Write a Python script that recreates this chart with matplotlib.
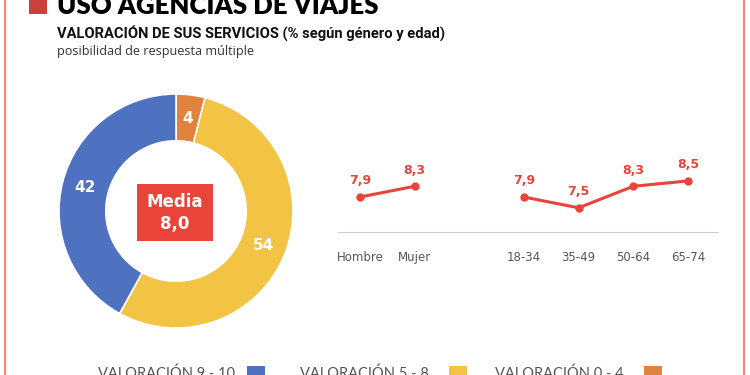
import matplotlib.pyplot as plt
from matplotlib.patches import Rectangle
from matplotlib.lines import Line2D

# donut data (clockwise from the top)
donut_labels = ['VALORACIÓN 0 - 4', 'VALORACIÓN 5 - 8', 'VALORACIÓN 9 - 10']
donut_values = [4, 54, 42]
donut_colors = ['#e0833f', '#f3c343', '#4f72c0']
media = '8,0'

# line data
gender_labels = ['Hombre', 'Mujer']
gender_values = [7.9, 8.3]
age_labels = ['18-34', '35-49', '50-64', '65-74']
age_values = [7.9, 7.5, 8.3, 8.5]

legend_order = ['VALORACIÓN 9 - 10', 'VALORACIÓN 5 - 8', 'VALORACIÓN 0 - 4']

W, H = 750, 375
RED = '#e8443a'


def box(x0, y0, x1, y1):
    # pixel box (top-left origin) -> figure rect
    return [x0 / W, 1 - y1 / H, (x1 - x0) / W, (y1 - y0) / H]


def fx(x):
    return x / W


def fy(y):
    return 1 - y / H


fig = plt.figure(figsize=(7.5, 3.75), dpi=100)
fig.patch.set_facecolor('white')

# side frame lines
fig.add_artist(Line2D([fx(4.5), fx(4.5)], [0, 1], color='#f08a80', lw=1.6))
fig.add_artist(Line2D([fx(743.5), fx(743.5)], [0, 1], color='#f08a80', lw=1.6))

# header
fig.add_artist(Rectangle((fx(29), fy(14)), 18 / W, 20 / H, color='#c9403f', lw=0))
fig.text(fx(57), fy(14), 'USO AGENCIAS DE VIAJES', fontsize=18.5, fontweight='heavy',
         family='Lato', va='baseline', ha='left', color='black')
fig.text(fx(57), fy(33), 'VALORACIÓN DE SUS SERVICIOS (% según género y edad)', fontsize=10.6,
         fontweight='bold', family='Roboto', va='center', ha='left', color='#111111')
fig.text(fx(57), fy(52), 'posibilidad de respuesta múltiple', fontsize=9.1,
         family='Open Sans', va='center', ha='left', color='#333333')

# donut
ax = fig.add_axes(box(59, 94, 293, 328))
ax.pie(donut_values, colors=donut_colors, startangle=90, counterclock=False,
       radius=1, wedgeprops=dict(width=0.4, edgecolor='white', linewidth=1.2),
       labels=[str(v) for v in donut_values], labeldistance=0.8,
       textprops=dict(color='white', fontsize=11, fontweight='bold', ha='center', va='center'))
ax.set_xlim(-1, 1)
ax.set_ylim(-1, 1)
ax.set_aspect('equal')
ax.axis('off')

# media box
fig.add_artist(Rectangle((fx(137), fy(241)), 76 / W, 57 / H, color=RED, lw=0))
fig.text(fx(175), fy(202), 'Media', color='white', fontsize=12, fontweight='bold',
         ha='center', va='center')
fig.text(fx(175), fy(224), media, color='white', fontsize=12, fontweight='bold',
         ha='center', va='center')

# line chart
lx = fig.add_axes(box(338, 150, 718, 232))
gx = list(range(len(gender_labels)))
axx = [len(gender_labels) + 1 + i for i in range(len(age_labels))]
for xs, ys in [(gx, gender_values), (axx, age_values)]:
    lx.plot(xs, ys, color=RED, lw=2.2, marker='o', ms=5, solid_capstyle='round')
    for x, y in zip(xs, ys):
        lx.annotate(f'{y:.1f}'.replace('.', ','), (x, y), xytext=(0, 7), textcoords='offset points',
                    ha='center', va='bottom', color=RED, fontsize=9, fontweight='bold')
lx.set_xlim(-0.4, 6.55)
lx.set_ylim(6.6, 9.65)
lx.set_xticks(gx + axx)
lx.set_xticklabels(gender_labels + age_labels, color='#555555', fontsize=8.5)
lx.tick_params(axis='x', length=0, pad=14)
lx.set_yticks([])
for s in ['top', 'left', 'right']:
    lx.spines[s].set_visible(False)
lx.spines['bottom'].set_color('#cccccc')
lx.patch.set_alpha(0)

# legend at the bottom (cut off by the frame, as in the source)
leg_pos = [(98, 247), (300, 449), (495, 644)]
col_of = dict(zip(donut_labels, donut_colors))
for name, (tx, sx) in zip(legend_order, leg_pos):
    fig.text(fx(tx), fy(367), name, fontsize=10.5, color='#555555', family='Lato',
             va='top', ha='left')
    fig.add_artist(Rectangle((fx(sx), 0), 18 / W, 9 / H, color=col_of[name], lw=0))

fig.savefig('out.png', dpi=100)
